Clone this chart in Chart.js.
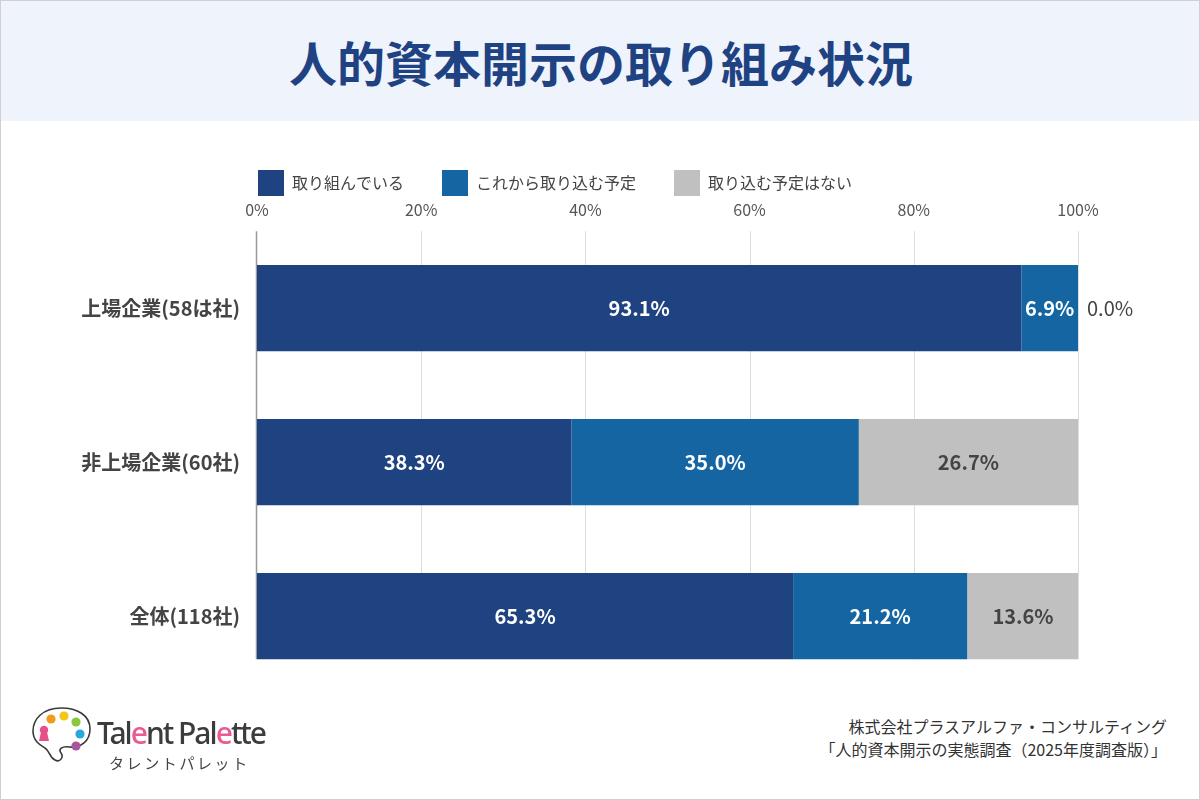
<!DOCTYPE html>
<html lang="ja">
<head>
<meta charset="utf-8">
<script src="https://cdn.jsdelivr.net/npm/chart.js@4/dist/chart.umd.min.js"></script>
<style>
  body { margin: 0; background: #fff; }
  #wrap { position: relative; width: 1200px; height: 800px; border: 1px solid #cfcfcf; box-sizing: border-box; overflow: hidden;
          font-family: 'Noto Sans CJK JP', 'Noto Sans', sans-serif; }
  #head { position: absolute; left: 0; top: 0; width: 1200px; height: 120px; background: #eef3fc; }
  #head h1 { margin: 0; line-height: 120px; text-align: center; font-size: 48px; font-weight: 700; color: #1f4283; }
  #box { position: absolute; left: 0; top: 120px; width: 1200px; height: 593px; }
  #logo { position: absolute; left: 30px; top: 704px; }
  #brand { position: absolute; left: 96px; top: 712px; font-family: 'Noto Sans', sans-serif; font-size: 30px; font-weight: 500;
           letter-spacing: -2px; color: #3c3c3c; line-height: 40px; }
  #brand span { color: #ea5a93; }
  #kana { position: absolute; left: 108px; top: 751px; font-size: 15px; letter-spacing: 2.6px; color: #444; line-height: 22px; }
  #src { position: absolute; right: 32px; top: 714px; font-size: 16px; color: #333; line-height: 23px; text-align: right; }
</style>
</head>
<body>
<div id="wrap">
  <div id="head"><h1>人的資本開示の取り組み状況</h1></div>
  <div id="box"><canvas id="c"></canvas></div>
  <svg id="logo" width="62" height="60" viewBox="0 0 62 60">
    <path d="M30 3 C12 3 2 14 2 26 C2 36 9 40 14 43 C19 46 18 52 24 55 C29 58 33 52 30 48 C27 44 31 41 38 42 C50 43 59 36 59 24 C59 10 46 3 30 3 Z"
          fill="none" stroke="#3a3a3a" stroke-width="1.6"/>
    <circle cx="20" cy="14" r="4.6" fill="#f39a1e"/>
    <circle cx="33" cy="11" r="4.6" fill="#f5c518"/>
    <circle cx="45" cy="17" r="4.6" fill="#8cc63f"/>
    <circle cx="49" cy="29" r="4.6" fill="#29a8e0"/>
    <circle cx="45" cy="41" r="4.6" fill="#a855a0"/>
    <circle cx="13" cy="25" r="4.2" fill="#e8508a"/>
    <path d="M10 27 L8 36 L18 36 L16 27 Z" fill="#e8508a"/>
  </svg>
  <div id="brand">Tal<span>e</span>nt Pal<span>e</span>tte</div>
  <div id="kana">タレントパレット</div>
  <div id="src">株式会社プラスアルファ・コンサルティング<br>「人的資本開示の実態調査（2025年度調査版）」</div>
</div>
<script>
const categories = ['上場企業(58は社)', '非上場企業(60社)', '全体(118社)'];
const seriesNames = ['取り組んでいる', 'これから取り込む予定', '取り込む予定はない'];
const doing = [93.1, 38.3, 65.3];
const planned = [6.9, 35.0, 21.2];
const notPlanned = [0.0, 26.7, 13.6];
const xTicks = [0, 20, 40, 60, 80, 100];

const colors = ['#1f4280', '#1565a3', '#c0c0c0'];
const labelColors = ['#ffffff', '#ffffff', '#444444'];

Chart.defaults.font.family = "'Noto Sans CJK JP', 'Noto Sans', sans-serif";

// legend keeps wide gaps between items but less space below it
const trimLegend = {
  id: 'trimLegend',
  beforeLayout(chart) {
    const lg = chart.legend;
    if (lg && !lg._trimmed) {
      const fit = lg.fit.bind(lg);
      lg.fit = function () { fit(); this.height -= 10; };
      lg._trimmed = true;
    }
  }
};

// grid lines only as far down as the bars go
const gridLines = {
  id: 'gridLines',
  beforeDatasetsDraw(chart) {
    const { ctx, chartArea, scales } = chart;
    const meta = chart.getDatasetMeta(0);
    const last = meta.data[meta.data.length - 1];
    const bottom = last.y + last.height / 2;
    ctx.save();
    xTicks.forEach(v => {
      const x = Math.round(scales.x.getPixelForValue(v)) + 0.5;
      ctx.strokeStyle = v === 0 ? '#999999' : '#dddddd';
      ctx.lineWidth = v === 0 ? 1.5 : 1;
      ctx.beginPath();
      ctx.moveTo(v === 0 ? x - 1 : x, chartArea.top);
      ctx.lineTo(v === 0 ? x - 1 : x, bottom);
      ctx.stroke();
    });
    ctx.restore();
  }
};

const barLabels = {
  id: 'barLabels',
  afterDatasetsDraw(chart) {
    const { ctx } = chart;
    ctx.save();
    ctx.textBaseline = 'middle';
    chart.data.datasets.forEach((ds, i) => {
      chart.getDatasetMeta(i).data.forEach((bar, j) => {
        const v = ds.data[j];
        const txt = v.toFixed(1) + '%';
        if (v > 0) {
          ctx.font = "bold 20px 'Noto Sans CJK JP', 'Noto Sans', sans-serif";
          ctx.fillStyle = labelColors[i];
          ctx.textAlign = 'center';
          ctx.fillText(txt, (bar.x + bar.base) / 2, bar.y);
        } else {
          ctx.font = "20px 'Noto Sans CJK JP', 'Noto Sans', sans-serif";
          ctx.fillStyle = '#444444';
          ctx.textAlign = 'left';
          ctx.fillText(txt, bar.x + 9, bar.y);
        }
      });
    });
    ctx.restore();
  }
};

new Chart(document.getElementById('c'), {
  type: 'bar',
  data: {
    labels: categories,
    datasets: [doing, planned, notPlanned].map((d, i) => ({
      label: seriesNames[i],
      data: d,
      backgroundColor: colors[i],
      borderWidth: 0,
      barPercentage: 1,
      categoryPercentage: 0.56
    }))
  },
  options: {
    indexAxis: 'y',
    responsive: true,
    maintainAspectRatio: false,
    animation: false,
    layout: { padding: { left: 31, right: 123, top: 11, bottom: 8 } },
    plugins: {
      legend: {
        position: 'top',
        align: 'center',
        labels: { boxWidth: 26, boxHeight: 26, padding: 38, color: '#444', font: { size: 16 } }
      },
      tooltip: { enabled: false }
    },
    scales: {
      x: {
        position: 'top',
        stacked: true,
        min: 0,
        max: 100,
        grid: { display: false },
        border: { display: false },
        ticks: { stepSize: 20, color: '#555', font: { size: 16 }, padding: 4, callback: v => v + '%' }
      },
      y: {
        stacked: true,
        grid: { display: false },
        border: { display: false },
        ticks: { color: '#444', font: { size: 20, weight: 'bold' }, padding: 9 },
        afterFit(scale) { scale.width = 225; }
      }
    }
  },
  plugins: [trimLegend, gridLines, barLabels]
});
</script>
</body>
</html>
